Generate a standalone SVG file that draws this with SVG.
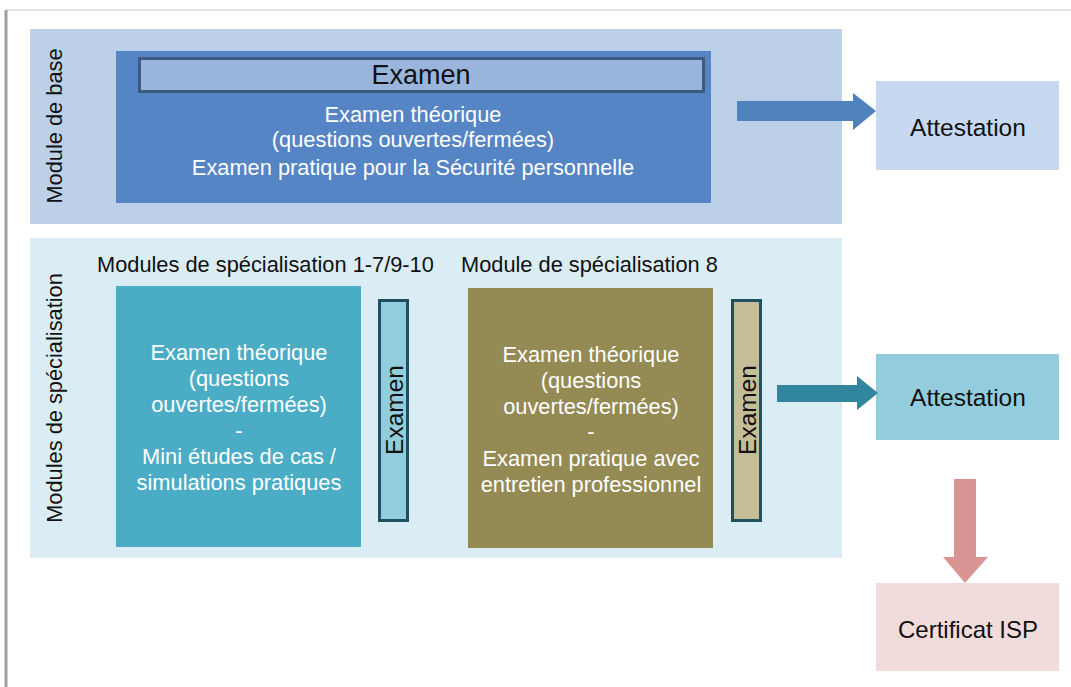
<svg xmlns="http://www.w3.org/2000/svg" width="1071" height="687" viewBox="0 0 1071 687">
<style>
text{font-family:"Liberation Sans",Arial,sans-serif;}
.w{fill:#ffffff;font-size:21.8px;text-anchor:middle;}
.b{fill:#111111;text-anchor:middle;}
.lbl{fill:#111111;font-size:21.8px;}
</style>
<rect x="0" y="0" width="1071" height="687" fill="#ffffff"/>
<line x1="6" y1="10" x2="1071" y2="10" stroke="#e4e4e4" stroke-width="2"/>
<line x1="6" y1="10" x2="6" y2="687" stroke="#a0a0a0" stroke-width="3"/>

<g id="panel-base">
<rect x="30" y="29" width="812" height="195" fill="#bcd0e8"/>
<text class="lbl" transform="translate(62,126) rotate(-90)" text-anchor="middle">Module de base</text>
</g>
<g id="base-exam">
<rect x="116" y="51" width="595" height="152" fill="#5585c5"/>
<rect x="139.5" y="58.5" width="564" height="33" fill="#9ab5dc" stroke="#3d5a80" stroke-width="3"/>
<text class="b" x="421" y="84" font-size="27">Examen</text>
<text class="w" x="413" y="122">Examen théorique</text>
<text class="w" x="413" y="147">(questions ouvertes/fermées)</text>
<text class="w" x="413" y="175">Examen pratique pour la Sécurité personnelle</text>
</g>
<g id="attest1">
<rect x="876" y="81" width="183" height="89" fill="#c6d9f1"/>
<text class="b" x="968" y="136" font-size="24.5">Attestation</text>
</g>

<g id="panel-spec">
<rect x="30" y="238" width="812" height="320" fill="#dbedf4"/>
<text class="lbl" transform="translate(62,398) rotate(-90)" text-anchor="middle">Modules de spécialisation</text>
<text class="lbl" x="97" y="272">Modules de spécialisation 1-7/9-10</text>
<text class="lbl" x="461" y="272">Module de spécialisation 8</text>
</g>
<g id="spec-1">
<rect x="116" y="286" width="245" height="261" fill="#4bacc6"/>
<text class="w" x="239" y="360">Examen théorique</text>
<text class="w" x="239" y="386">(questions</text>
<text class="w" x="239" y="412">ouvertes/fermées)</text>
<text class="w" x="239" y="438">-</text>
<text class="w" x="239" y="464">Mini études de cas /</text>
<text class="w" x="239" y="490">simulations pratiques</text>
</g>
<g id="exam-1">
<rect x="379.5" y="300.5" width="28" height="220" fill="#92cddc" stroke="#1f5060" stroke-width="3"/>
<text class="b" font-size="24.5" transform="translate(403,410) rotate(-90)">Examen</text>
</g>
<g id="spec-8">
<rect x="468" y="288" width="245" height="260" fill="#948a54"/>
<text class="w" x="591" y="362">Examen théorique</text>
<text class="w" x="591" y="388">(questions</text>
<text class="w" x="591" y="414">ouvertes/fermées)</text>
<text class="w" x="591" y="439">-</text>
<text class="w" x="591" y="466">Examen pratique avec</text>
<text class="w" x="591" y="492">entretien professionnel</text>
</g>
<g id="exam-8">
<rect x="732.5" y="300.5" width="28" height="220" fill="#c4bd97" stroke="#1f5060" stroke-width="3"/>
<text class="b" font-size="24.5" transform="translate(756,410) rotate(-90)">Examen</text>
</g>
<g id="attest2">
<rect x="876" y="354" width="183" height="86" fill="#93cddd"/>
<text class="b" x="968" y="406" font-size="24.5">Attestation</text>
</g>
<g id="certificat">
<rect x="876" y="583" width="183" height="88" fill="#f2dcdb"/>
<text class="b" x="968" y="638" font-size="24">Certificat ISP</text>
</g>

<g id="connectors">
<polygon points="737,101 853,101 853,93 876,111 853,130 853,121 737,121" fill="#4f81bd"/>
<polygon points="777,385 857,385 857,376 878,393 857,410 857,402 777,402" fill="#31859c"/>
<polygon points="954,479 976,479 976,557 988,557 965,583 943,557 954,557" fill="#d99594"/>
</g>
</svg>
